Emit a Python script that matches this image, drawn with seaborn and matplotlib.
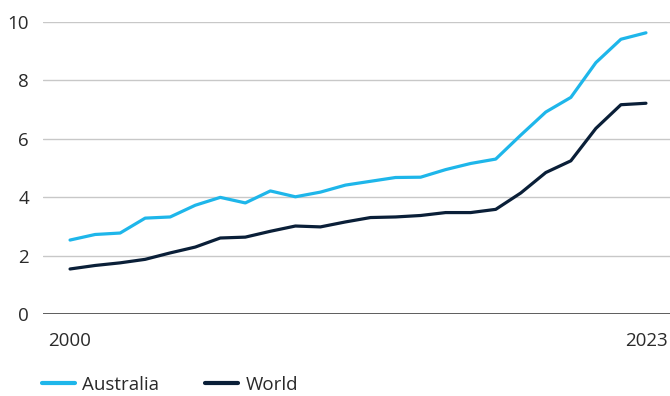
import numpy as np
import pandas as pd
import matplotlib
matplotlib.use("Agg")
import matplotlib.pyplot as plt
import seaborn as sns

# Values
years = list(range(2000, 2024))
australia = [2.53, 2.72, 2.77, 3.28, 3.32, 3.72, 3.99, 3.80, 4.21, 4.01, 4.17, 4.41,
             4.54, 4.67, 4.68, 4.94, 5.15, 5.30, 6.12, 6.91, 7.41, 8.60, 9.40, 9.62]
world = [1.54, 1.66, 1.75, 1.87, 2.09, 2.29, 2.60, 2.63, 2.83, 3.01, 2.98, 3.15,
         3.30, 3.32, 3.37, 3.47, 3.47, 3.58, 4.14, 4.84, 5.24, 6.35, 7.16, 7.21]
series_names = ["Australia", "World"]
colors = {"Australia": "#1EB6EA", "World": "#0A1F38"}
y_ticks = [0, 2, 4, 6, 8, 10]
x_ticks = [2000, 2023]

df = pd.DataFrame({"Year": years, "Australia": australia, "World": world})
long = df.melt(id_vars="Year", var_name="Series", value_name="Value")

sns.set_style("white")
plt.rcParams["font.family"] = ["Open Sans", "DejaVu Sans"]

fig = plt.figure(figsize=(6.7, 3.96), dpi=100)
ax = fig.add_axes([43 / 670, 82 / 396, 1 - 43 / 670, 292.3 / 396])

sns.lineplot(data=long, x="Year", y="Value", hue="Series", hue_order=series_names,
             palette=colors, linewidth=2.3, ax=ax, legend=False)

ax.set_ylim(0, 10)
ax.set_xlim(2000 - 27 / 25, 2023 + 24 / 25)
ax.set_yticks(y_ticks)
ax.set_xticks(x_ticks)
ax.set_xlabel("")
ax.set_ylabel("")
for s in ax.spines.values():
    s.set_visible(False)
ax.grid(axis="y", color="#c8c8c8", linewidth=1)
ax.grid(axis="x", visible=False)
ax.axhline(0, color="#444444", linewidth=1.2, zorder=1)
ax.tick_params(axis="both", length=0, labelsize=13.5, colors="#2a2a2a")
ax.tick_params(axis="y", pad=10)
ax.tick_params(axis="x", pad=13)

handles = [plt.Line2D([], [], color=colors[n], linewidth=3) for n in series_names]
fig.legend(handles, series_names, loc="center left",
           bbox_to_anchor=(42 / 670, 11 / 396), ncol=2, frameon=False,
           fontsize=13.5, handlelength=1.75, handletextpad=0.4,
           columnspacing=2.45, borderpad=0, borderaxespad=0,
           labelcolor="#2a2a2a")

fig.savefig("out.png", dpi=100)
